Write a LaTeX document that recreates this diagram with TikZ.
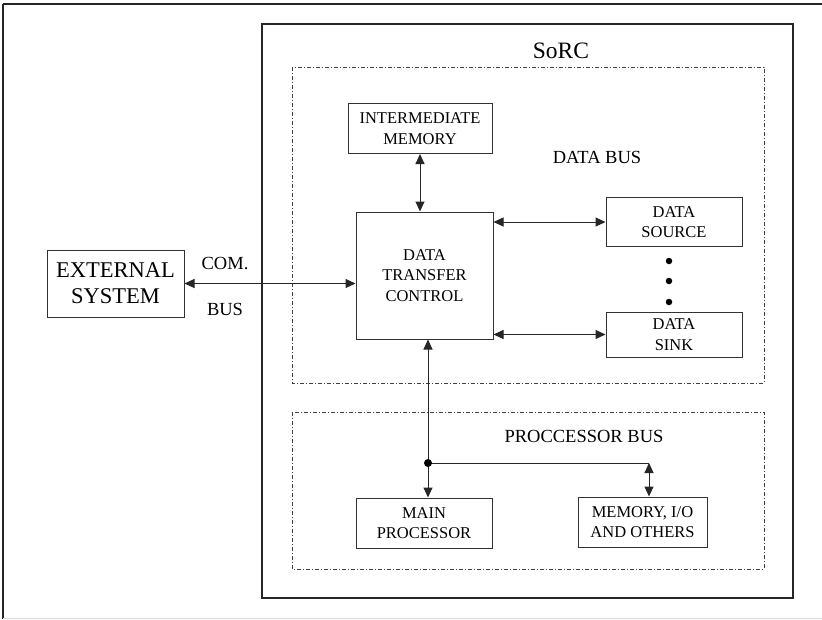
\documentclass[tikz,border=0pt]{standalone}
\usepackage{fontspec}
\setmainfont{Liberation Serif}
\usetikzlibrary{arrows.meta}
\begin{document}
\begin{tikzpicture}[x=1pt,y=-1pt,
  box/.style={draw=black!80,line width=1pt,align=center,inner sep=0pt,
    font=\fontsize{16.5}{20.5}\selectfont},
  lbl/.style={inner sep=0pt,font=\fontsize{18.5}{22}\selectfont},
  link/.style={line width=1pt,draw=black!85},
  arr/.style={link,{Triangle[length=10pt,width=9pt]}-{Triangle[length=10pt,width=9pt]}},
  region/.style={draw=black!75,line width=0.9pt,dash pattern=on 4pt off 2pt on 1pt off 2pt},
  dotnode/.style={circle,fill=black,inner sep=0pt,minimum size=6.5pt}]
\useasboundingbox (0,0) rectangle (822,619);
% outer frame
\draw[line width=2pt,black!85] (3,4) -- (822,4);
\draw[line width=1.5pt,black!85] (3,4) -- (3,619);
\draw[line width=1pt,black!15] (3,618) -- (822,618);
% SoRC container
\draw[line width=1.3pt,black!85] (262,24) rectangle (793,598);
\node[inner sep=0pt,font=\fontsize{23.5}{26}\selectfont] (sorc) at (561,51) {SoRC};
% regions
\draw[region] (292,67) rectangle (764,383);
\draw[region] (292,412) rectangle (764,569);
% nodes
\node[box,minimum width=137pt,minimum height=67pt,font=\fontsize{22.5}{26}\selectfont] (ext) at (115.5,283.5) {EXTERNAL\\SYSTEM};
\node[box,minimum width=144pt,minimum height=50pt] (im) at (420,128.5) {INTERMEDIATE\\MEMORY};
\node[box,minimum width=137pt,minimum height=127pt] (dtc) at (424.5,275.5) {DATA\\TRANSFER\\CONTROL};
\node[box,minimum width=136pt,minimum height=49pt] (src) at (674,222) {DATA\\SOURCE};
\node[box,minimum width=136pt,minimum height=45pt] (sink) at (674,334.5) {DATA\\SINK};
\node[box,minimum width=136pt,minimum height=50pt] (mp) at (424,523) {MAIN\\PROCESSOR};
\node[box,minimum width=129pt,minimum height=50pt] (mem) at (642.5,522) {MEMORY, I/O\\AND OTHERS};
% labels
\node[lbl] (com) at (225,264) {COM.};
\node[lbl] (bus) at (225,309) {BUS};
\node[lbl] (databus) at (597,157) {DATA BUS};
\node[lbl] (procbus) at (584,436) {PROCCESSOR BUS};
% dots
\node[dotnode] (d1) at (669,261) {};
\node[dotnode] (d2) at (669,281) {};
\node[dotnode] (d3) at (669,302) {};
% connectors
\draw[arr] (ext.east) -- (ext.east -| dtc.west);
\draw[arr] (im.south) -- (im.south |- dtc.north);
\draw[arr] (src.west -| dtc.east) -- (src.west);
\draw[arr] (sink.west -| dtc.east) -- (sink.west);
\coordinate (j) at (428,463);
\coordinate (jr) at (649,463);
\draw[arr] (j |- dtc.south) -- (j |- mp.north);
\draw[link] (j) -- (jr);
\draw[arr] (jr) -- (jr |- mem.north);
\fill[black] (j) circle (4pt);
\end{tikzpicture}
\end{document}
